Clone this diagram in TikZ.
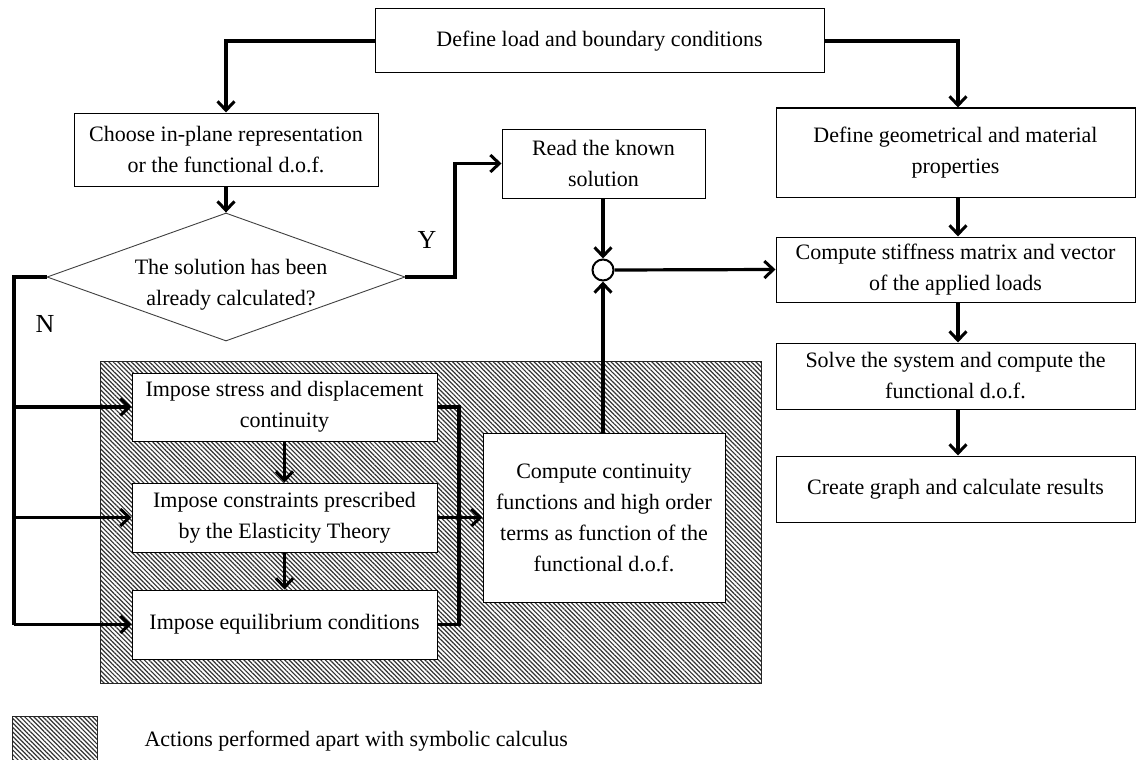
\documentclass[tikz,border=0pt]{standalone}
\usepackage{fontspec}
\setmainfont{Liberation Serif}
\usetikzlibrary{shapes.geometric,arrows.meta,patterns.meta}
\begin{document}
\begin{tikzpicture}[x=1pt,y=-1pt,
  txt/.style={font=\fontsize{22}{31}\selectfont, align=center},
  lbl/.style={font=\fontsize{26}{30}\selectfont},
  box/.style={txt, draw, line width=1pt, fill=white, inner sep=0pt},
  conn/.style={line width=3.2pt, line join=miter},
  arr/.style={conn, -{Straight Barb[length=9pt,width=17pt,line width=3pt]}},
  hatch/.style={draw=black!85, line width=1pt, pattern={Lines[angle=-45,distance=3.2pt,line width=1.2pt]}, pattern color=black!80}
]
\useasboundingbox (0,0) rectangle (1136,760);
\fill[white] (0,0) rectangle (1136,760);

% hatched region
\path[hatch] (100,361) rectangle (761,683);
\path[hatch] (12,716) rectangle (97,764);
\node[txt, anchor=west] (legend) at (141,741) {Actions performed apart with symbolic calculus};

% nodes
\node[box, minimum width=449pt, minimum height=64pt] (load) at (599.5,41) {Define load and boundary conditions};
\node[box, minimum width=304pt, minimum height=73pt] (choose) at (226,149.5) {Choose in-plane representation\\or the functional d.o.f.};
\node[draw=black!75, line width=0.9pt, diamond, aspect=2.8, minimum width=358pt, minimum height=128pt, inner sep=0pt, fill=white] (dia) at (226,277) {};
\node[txt] (diatxt) at (231,285) {The solution has been\\already calculated?};
\node[box, minimum width=203pt, minimum height=69pt] (read) at (603.5,163.5) {Read the known\\solution};
\node[draw, circle, line width=2pt, fill=white, minimum size=21pt, inner sep=0pt] (circ) at (603,270) {};
\node[box, minimum width=359pt, minimum height=89pt] (geom) at (955.5,152.5) {Define geometrical and material\\properties};
\node[box, minimum width=359pt, minimum height=65pt] (stiff) at (955.5,269.5) {Compute stiffness matrix and vector\\of the applied loads};
\node[box, minimum width=359pt, minimum height=66pt] (solve) at (955.5,376) {Solve the system and compute the\\functional d.o.f.};
\node[box, minimum width=359pt, minimum height=66pt] (create) at (955.5,489) {Create graph and calculate results};
\node[box, minimum width=305pt, minimum height=68pt] (stress) at (284.5,407) {Impose stress and displacement\\continuity};
\node[box, minimum width=305pt, minimum height=69pt] (constr) at (284.5,517.5) {Impose constraints prescribed\\by the Elasticity Theory};
\node[box, minimum width=305pt, minimum height=69pt] (equil) at (284.5,624.5) {Impose equilibrium conditions};
\node[box, minimum width=242pt, minimum height=169pt] (comp) at (604,517.5) {Compute continuity\\functions and high order\\terms as function of the\\functional d.o.f.};

% labels
\node[lbl] (ylab) at (427,240) {Y};
\node[lbl] (nlab) at (45,324) {N};

% connectors
\coordinate (lk1) at (226,41);
\coordinate (rk1) at (958,41);
\draw[arr] (load.west) -- (lk1) -- (choose.north);
\draw[arr] (load.east) -- (rk1) -- (geom.north -| rk1);
\draw[arr] (choose.south) -- (dia.north);
\coordinate (yk1) at (455,277);
\coordinate (yk2) at (455,163.5);
\draw[arr] (dia.east) -- (yk1) -- (yk2) -- (read.west);
\draw[arr] (read.south -| circ) -- (circ.north);
\draw[arr] (comp.north -| circ) -- (circ.south);
\draw[arr] (circ.east) -- (stiff.west);
\draw[arr] (geom.south -| rk1) -- (stiff.north -| rk1);
\draw[arr] (stiff.south -| rk1) -- (solve.north -| rk1);
\draw[arr] (solve.south -| rk1) -- (create.north -| rk1);

\coordinate (nk1) at (14,277);
\coordinate (nk2) at (14,624.5);
\draw[conn] (dia.west) -- (nk1) -- (nk2);
\draw[arr] (14,407) -- (stress.west);
\draw[arr] (14,517.5) -- (constr.west);
\draw[arr] (nk2) -- (equil.west);

\draw[arr] (stress.south) -- (constr.north);
\draw[arr] (constr.south) -- (equil.north);

\coordinate (bk1) at (459,407);
\coordinate (bk2) at (459,624.5);
\draw[conn] (stress.east) -- (bk1) -- (bk2) -- (equil.east);
\draw[arr] (constr.east) -- (comp.west);
\end{tikzpicture}
\end{document}
